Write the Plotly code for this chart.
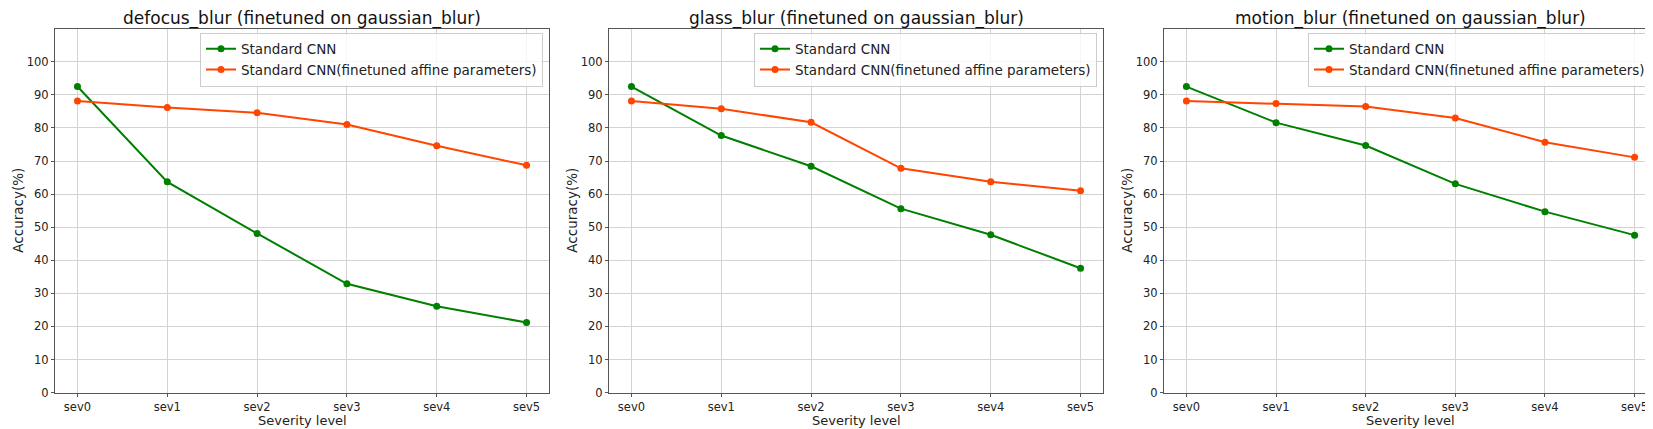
import plotly.graph_objects as go

# severity levels on the x axis
levels = ["sev0", "sev1", "sev2", "sev3", "sev4", "sev5"]

# accuracy (%) per corruption
defocus_std = [92.5, 63.7, 48.1, 32.9, 26.1, 21.2]
defocus_ft = [88.1, 86.2, 84.6, 81.0, 74.6, 68.7]

glass_std = [92.5, 77.7, 68.4, 55.6, 47.7, 37.6]
glass_ft = [88.1, 85.8, 81.7, 67.8, 63.7, 61.0]

motion_std = [92.5, 81.6, 74.7, 63.1, 54.7, 47.6]
motion_ft = [88.1, 87.4, 86.5, 83.0, 75.7, 71.1]

titles = ["defocus_blur (finetuned on gaussian_blur)",
          "glass_blur (finetuned on gaussian_blur)",
          "motion_blur (finetuned on gaussian_blur)"]

W, H = 1653, 429
FONT = "DejaVu Sans"

# panel pixel boxes (left, right)
panels = [(47, 541), (601, 1095), (1156, 1649)]
top_px, bot_px = 21, 391

fig = go.Figure()

series = [(defocus_std, defocus_ft), (glass_std, glass_ft), (motion_std, motion_ft)]
for i, (std, ft) in enumerate(series):
    n = "" if i == 0 else str(i + 1)
    leg = "legend" if i == 0 else "legend" + str(i + 1)
    fig.add_trace(go.Scatter(x=list(range(6)), y=std, mode="lines+markers",
                             name="Standard CNN", line=dict(color="#008000", width=2),
                             marker=dict(size=7), xaxis="x" + n, yaxis="y" + n, legend=leg))
    fig.add_trace(go.Scatter(x=list(range(6)), y=ft, mode="lines+markers",
                             name="Standard CNN(finetuned affine parameters)",
                             line=dict(color="#FF4500", width=2),
                             marker=dict(size=7), xaxis="x" + n, yaxis="y" + n, legend=leg))

layout = dict(width=W, height=H, margin=dict(l=0, r=0, t=0, b=0),
              paper_bgcolor="white", plot_bgcolor="white",
              font=dict(family=FONT, size=12, color="#222"),
              annotations=[])

ydom = [1 - bot_px / H, 1 - top_px / H]
for i, (l, r) in enumerate(panels):
    n = "" if i == 0 else str(i + 1)
    ax = dict(domain=[l / W, r / W], range=[-0.25, 5.25],
              tickmode="array", tickvals=list(range(6)), ticktext=levels,
              showgrid=True, gridcolor="#d3d3d3", gridwidth=1,
              showline=True, linecolor="#555", linewidth=1.2, mirror=True,
              ticks="outside", ticklen=3, tickcolor="#555", ticklabeloverflow="allow",
              tickfont=dict(size=11.5), zeroline=False, anchor="y" + n)
    ay = dict(domain=ydom, range=[0, 110],
              tickmode="array", tickvals=list(range(0, 101, 10)),
              showgrid=True, gridcolor="#d3d3d3", gridwidth=1,
              showline=True, linecolor="#555", linewidth=1.2, mirror=True,
              ticks="outside", ticklen=3, tickcolor="#555",
              tickfont=dict(size=11.5), zeroline=False, anchor="x" + n)
    layout["xaxis" + n] = ax
    layout["yaxis" + n] = ay
    leg = dict(x=(r - 6) / W, y=1 - 25 / H, xanchor="right", yanchor="top",
               bgcolor="rgba(255,255,255,0.8)", bordercolor="#cccccc", borderwidth=1,
               font=dict(size=13.5, family=FONT), itemwidth=30, tracegroupgap=0)
    layout["legend" if i == 0 else "legend" + str(i + 1)] = leg
    # panel title
    layout["annotations"].append(dict(text=titles[i], x=(l + r) / 2 / W, y=1 - 11 / H,
                                      xref="paper", yref="paper", showarrow=False,
                                      xanchor="center", yanchor="middle",
                                      font=dict(size=17, family=FONT, color="#111")))
    # axis titles
    layout["annotations"].append(dict(text="Severity level", x=(l + r) / 2 / W, y=1 - 419 / H,
                                      xref="paper", yref="paper", showarrow=False,
                                      xanchor="center", yanchor="middle",
                                      font=dict(size=13, family=FONT, color="#222")))
    layout["annotations"].append(dict(text="Accuracy(%)", x=(l - 37) / W,
                                      y=1 - (top_px + bot_px) / 2 / H,
                                      xref="paper", yref="paper", showarrow=False,
                                      textangle=-90, xanchor="center", yanchor="middle",
                                      font=dict(size=13.5, family=FONT, color="#222")))

fig.update_layout(**layout)
fig.write_html("out.html")
